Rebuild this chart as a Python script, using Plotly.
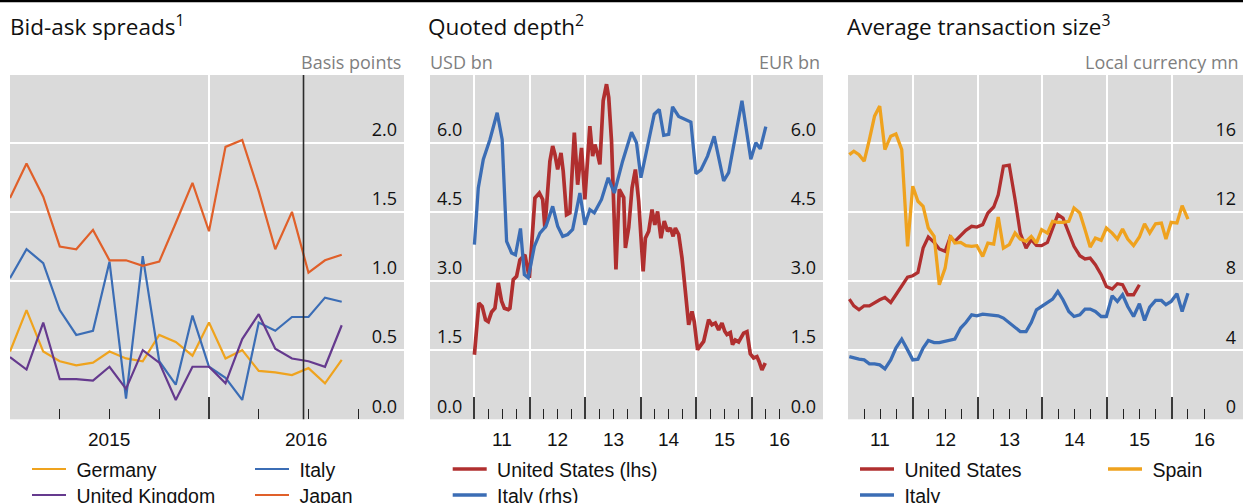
import plotly.graph_objects as go

W, H = 1243, 503

# ---------------- data ----------------
# Panel 1: bid-ask spreads, basis points (monthly)
spread_dates = [2015.000, 2015.083, 2015.167, 2015.250, 2015.333, 2015.417, 2015.500,
                2015.583, 2015.667, 2015.750, 2015.833, 2015.917, 2016.000, 2016.083,
                2016.167, 2016.250, 2016.333, 2016.417, 2016.500, 2016.583, 2016.667]
spread_germany = [0.49, 0.79, 0.49, 0.42, 0.39, 0.41, 0.49, 0.44, 0.42, 0.61, 0.56,
                  0.46, 0.70, 0.44, 0.50, 0.35, 0.34, 0.32, 0.37, 0.26, 0.43]
spread_italy = [1.02, 1.23, 1.13, 0.79, 0.61, 0.64, 1.14, 0.15, 1.18, 0.42, 0.25,
                0.75, 0.38, 0.30, 0.14, 0.70, 0.64, 0.74, 0.74, 0.88, 0.85]
spread_uk = [0.45, 0.36, 0.70, 0.29, 0.29, 0.28, 0.38, 0.22, 0.50, 0.41, 0.14,
             0.38, 0.38, 0.26, 0.58, 0.76, 0.51, 0.44, 0.42, 0.38, 0.68]
spread_japan = [1.60, 1.85, 1.61, 1.25, 1.23, 1.37, 1.15, 1.15, 1.11, 1.14, 1.42,
                1.71, 1.36, 1.97, 2.02, 1.65, 1.23, 1.50, 1.06, 1.15, 1.19]
brexit_vote = 2016.475
spread_year_labels = ["2015", "2016"]
spread_year_label_pos = [2015.5, 2016.49]
spread_major_ticks = [2015, 2016]
spread_minor_ticks = [2015.25, 2015.5, 2015.75, 2016.25, 2016.5, 2016.75]
spread_yticks = [0.0, 0.5, 1.0, 1.5, 2.0]

# Panel 2: quoted depth
depth_us_dates = [2011.00, 2011.08, 2011.14, 2011.20, 2011.25, 2011.31, 2011.37, 2011.43,
                  2011.49, 2011.54, 2011.61, 2011.64, 2011.70, 2011.76, 2011.82, 2011.91,
                  2011.99, 2012.09, 2012.17, 2012.23, 2012.27, 2012.36, 2012.41, 2012.45,
                  2012.50, 2012.56, 2012.60, 2012.66, 2012.72, 2012.80, 2012.86, 2012.93,
                  2012.99, 2013.08, 2013.13, 2013.17, 2013.22, 2013.26, 2013.32, 2013.38,
                  2013.42, 2013.47, 2013.55, 2013.61, 2013.69, 2013.72, 2013.78, 2013.84,
                  2013.90, 2013.96, 2014.04, 2014.08, 2014.14, 2014.20, 2014.25, 2014.30,
                  2014.36, 2014.42, 2014.48, 2014.53, 2014.58, 2014.62, 2014.68, 2014.74,
                  2014.80, 2014.86, 2014.92, 2014.96, 2015.02, 2015.07, 2015.13, 2015.22,
                  2015.28, 2015.34, 2015.40, 2015.46, 2015.51, 2015.55, 2015.61, 2015.65,
                  2015.70, 2015.76, 2015.80, 2015.85, 2015.91, 2015.97, 2016.03, 2016.09,
                  2016.13, 2016.18, 2016.24]
depth_us = [1.40, 2.52, 2.45, 2.16, 2.12, 2.33, 2.41, 2.96,
            2.56, 2.41, 2.38, 2.41, 3.03, 3.10, 3.46, 3.57,
            3.07, 4.80, 4.91, 4.77, 4.15, 5.60, 5.93, 5.75,
            5.42, 5.78, 5.38, 4.44, 4.48, 6.22, 5.09, 5.89,
            4.77, 6.36, 5.71, 5.96, 5.75, 5.53, 6.91, 7.27,
            6.98, 6.04, 3.25, 4.99, 4.81, 3.72, 4.16, 5.02,
            5.42, 4.73, 3.21, 3.93, 4.08, 4.55, 4.22, 4.51,
            3.93, 4.30, 4.08, 4.15, 3.97, 4.15, 4.01, 3.50,
            2.78, 2.05, 2.34, 2.12, 1.51, 1.58, 1.69, 2.16,
            2.05, 2.09, 1.94, 2.09, 1.91, 1.84, 1.88, 1.62,
            1.72, 1.68, 1.75, 1.87, 1.90, 1.42, 1.33, 1.36,
            1.25, 1.07, 1.22]
depth_it_dates = [2011.00, 2011.07, 2011.16, 2011.28, 2011.41, 2011.50, 2011.58, 2011.67,
                  2011.74, 2011.83, 2011.90, 2011.97, 2012.08, 2012.18, 2012.29, 2012.41,
                  2012.50, 2012.59, 2012.68, 2012.77, 2012.90, 2012.99, 2013.08, 2013.16,
                  2013.29, 2013.41, 2013.52, 2013.67, 2013.83, 2013.92, 2014.00, 2014.12,
                  2014.24, 2014.33, 2014.41, 2014.50, 2014.57, 2014.68, 2014.90, 2014.99,
                  2015.08, 2015.20, 2015.32, 2015.49, 2015.58, 2015.82, 2015.98, 2016.07,
                  2016.15, 2016.25]
depth_it = [3.79, 5.02, 5.64, 6.07, 6.65, 6.07, 3.86, 3.61,
            3.57, 4.14, 3.14, 3.07, 3.75, 4.04, 4.19, 4.62,
            4.19, 3.97, 4.01, 4.12, 4.91, 4.22, 4.55, 4.48,
            4.77, 5.24, 4.91, 5.60, 6.23, 6.00, 5.24, 5.93,
            6.62, 6.72, 6.16, 6.18, 6.78, 6.57, 6.45, 5.33,
            5.41, 5.71, 6.14, 5.17, 5.35, 6.91, 5.64, 6.00,
            5.87, 6.35]
depth_yticks = [0.0, 1.5, 3.0, 4.5, 6.0]

# Panel 3: average transaction size, local currency mn
size_dates = [2011.02, 2011.09, 2011.17, 2011.25, 2011.33, 2011.41, 2011.49, 2011.57,
              2011.66, 2011.74, 2011.83, 2011.92, 2012.00, 2012.08, 2012.16, 2012.24,
              2012.33, 2012.41, 2012.50, 2012.58, 2012.65, 2012.74, 2012.82, 2012.91,
              2012.99, 2013.08, 2013.16, 2013.25, 2013.32, 2013.40, 2013.49, 2013.58,
              2013.66, 2013.75, 2013.83, 2013.91, 2013.99, 2014.08, 2014.16, 2014.24,
              2014.32, 2014.41, 2014.49, 2014.58, 2014.66, 2014.74, 2014.82, 2014.91,
              2014.99, 2015.08, 2015.16, 2015.24, 2015.32, 2015.41, 2015.50, 2015.58,
              2015.66, 2015.75, 2015.84, 2015.91, 2015.99, 2016.08, 2016.16, 2016.25,
              2016.33]
size_us = [6.96, 6.57, 6.34, 6.57, 6.57, 6.76, 6.92, 7.05,
           6.76, 7.21, 7.69, 8.23, 8.31, 8.50, 9.91, 10.55,
           10.24, 9.86, 9.72, 10.55, 10.30, 10.63, 10.94, 11.17,
           11.13, 11.27, 11.94, 12.29, 13.00, 14.65, 14.71, 12.72,
           10.78, 9.91, 10.40, 10.07, 10.05, 10.24, 11.07, 11.85,
           11.65, 10.78, 10.01, 9.47, 9.28, 9.33, 8.95, 8.37,
           7.69, 7.54, 7.85, 7.79, 7.21, 7.21, 7.79, None,
           None, None, None, None, None, None, None, None,
           None]
size_spain = [15.32, 15.52, 15.32, 14.94, 16.19, 17.55, 18.13, 15.61,
              16.39, 16.52, 15.61, 10.01, 13.49, 12.62, 12.33, 11.07,
              10.59, 7.79, 8.75, 10.63, 10.20, 10.24, 10.05, 10.01,
              10.05, 9.43, 10.20, 10.14, 11.71, 9.91, 10.11, 10.78,
              10.43, 10.30, 10.59, 10.20, 10.98, 10.78, 11.46, 11.40,
              11.40, 11.46, 12.23, 11.94, 10.98, 9.97, 10.49, 10.36,
              11.07, 10.78, 10.43, 11.01, 10.43, 10.05, 10.55, 11.32,
              10.78, 11.32, 11.36, 10.43, 11.40, 11.36, 12.37, 11.59,
              None]
size_italy = [3.63, 3.54, 3.48, 3.44, 3.21, 3.21, 3.15, 2.92,
              3.44, 4.12, 4.64, 4.02, 3.44, 3.48, 4.12, 4.56,
              4.44, 4.44, 4.50, 4.56, 4.64, 5.28, 5.60, 6.05,
              5.99, 6.09, 6.05, 6.05, 5.99, 5.86, 5.57, 5.28,
              5.08, 5.08, 5.60, 6.34, 6.53, 6.72, 6.96, 7.40,
              6.92, 6.24, 5.95, 6.05, 6.38, 6.38, 6.24, 5.95,
              5.95, 7.15, 6.82, 7.21, 6.53, 5.95, 6.69, 5.72,
              6.49, 6.88, 6.88, 6.63, 6.82, 7.27, 6.24, 7.30,
              None]
size_yticks = [0, 4, 8, 12, 16]

multi_year_labels = ["11", "12", "13", "14", "15", "16"]
multi_year_label_pos = [2011.5, 2012.5, 2013.5, 2014.5, 2015.5, 2016.5]
multi_major_ticks = [2011, 2012, 2013, 2014, 2015, 2016]
multi_minor_ticks = [2011.25, 2011.5, 2011.75, 2012.25, 2012.5, 2012.75,
                     2013.25, 2013.5, 2013.75, 2014.25, 2014.5, 2014.75,
                     2015.25, 2015.5, 2015.75, 2016.25, 2016.5]

# ---------------- style ----------------
C_GER = "#EFA31E"
C_ITA = "#3B6DB5"
C_UK = "#653A8E"
C_JPN = "#E0602A"
C_US = "#B02F2F"
C_ESP = "#EFA21E"
BG = "#DADADA"
GRAY = "#7F7F7F"
F_TITLE = "Open Sans"
F_ARIAL = "Liberation Sans"
PAD = "\u00a0"  # small gap between legend key and its label


def px(x):
    return x / W


def py(y):
    return 1 - y / H


Y_DOM = [py(419.3), py(75)]

fig = go.Figure()


def line(x, y, name, color, width, xa, ya, leg):
    fig.add_trace(go.Scatter(x=x, y=y, name=PAD + name, mode="lines",
                             line=dict(color=color, width=width),
                             xaxis=xa, yaxis=ya, legend=leg,
                             connectgaps=False, hoverinfo="skip"))


line(spread_dates, spread_germany, "Germany", C_GER, 2.2, "x", "y", "legend")
line(spread_dates, spread_italy, "Italy", C_ITA, 2.2, "x", "y", "legend")
line(spread_dates, spread_uk, "United Kingdom", C_UK, 2.2, "x", "y", "legend2")
line(spread_dates, spread_japan, "Japan", C_JPN, 2.2, "x", "y", "legend2")

line(depth_it_dates, depth_it, "Italy (rhs)", C_ITA, 3.3, "x2", "y3", "legend4")
line(depth_us_dates, depth_us, "United States (lhs)", C_US, 3.7, "x2", "y2", "legend3")

line(size_dates, size_us, "United States", C_US, 3.3, "x3", "y4", "legend5")
line(size_dates, size_spain, "Spain", C_ESP, 3.3, "x3", "y4", "legend5")
line(size_dates, size_italy, "Italy", C_ITA, 3.3, "x3", "y4", "legend6")


def xaxis(domain, rng, major, minor):
    return dict(domain=domain, range=rng, showgrid=True, gridcolor="white", gridwidth=1.5,
                zeroline=False, showline=False, tickmode="array", tickvals=major,
                ticks="inside", ticklen=22, tickwidth=1.6, tickcolor="#3a3a3a",
                showticklabels=False, fixedrange=True,
                minor=dict(tickmode="array", tickvals=minor, ticks="inside", ticklen=10,
                           tickwidth=1.3, tickcolor="#222222", showgrid=False))


def yaxis(anchor, rng, ticks, fmt, side, grid=True, overlay=None):
    d = dict(domain=Y_DOM, range=rng, anchor=anchor, side=side, showgrid=grid,
             gridcolor="white", gridwidth=1.5, zeroline=False, showline=False,
             tickmode="array", tickvals=ticks, tickformat=fmt, ticks="",
             ticklabelposition="inside", ticklabelshift=-13, ticklabelstandoff=4,
             tickfont=dict(family=F_TITLE, size=18, color="#111111"), fixedrange=True)
    if overlay:
        d["overlaying"] = overlay
    return d


fig.update_layout(
    width=W, height=H, margin=dict(l=0, r=0, t=0, b=0, autoexpand=False),
    paper_bgcolor="white", plot_bgcolor=BG, showlegend=True,
    xaxis=xaxis([px(10), px(404)], [2015.0, 2016.98], spread_major_ticks, spread_minor_ticks),
    xaxis2=xaxis([px(430), px(823)], [2010.2, 2017.28], multi_major_ticks, multi_minor_ticks),
    xaxis3=xaxis([px(848), px(1243)], [2011.0, 2017.1], multi_major_ticks, multi_minor_ticks),
    yaxis=yaxis("x", [0, 2.49], spread_yticks, ".1f", "right"),
    yaxis2=yaxis("x2", [0, 7.47], depth_yticks, ".1f", "left"),
    yaxis3=yaxis("x2", [0, 7.47], depth_yticks, ".1f", "right", grid=False, overlay="y2"),
    yaxis4=yaxis("x3", [0, 19.93], size_yticks, "d", "right"),
)

# legends: one per row
LEG_H = 28.35


def legend(x_line, y_center, entrywidth=None):
    d = dict(orientation="h", x=px(x_line - 5), y=py(y_center - 5 - LEG_H / 2),
             xanchor="left", yanchor="top", bgcolor="rgba(0,0,0,0)", borderwidth=0,
             itemwidth=34, font=dict(family=F_ARIAL, size=19.5, color="#111111"),
             itemclick=False, itemdoubleclick=False)
    if entrywidth:
        d["entrywidth"] = entrywidth
        d["entrywidthmode"] = "pixels"
    return d


fig.update_layout(
    legend=legend(32, 469, 174),
    legend2=legend(32, 495, 174),
    legend3=legend(452.7, 469),
    legend4=legend(452.7, 495),
    legend5=legend(860, 469, 199),
    legend6=legend(860, 495),
)

ann = []


def text(x, y, s, size, color, family, xanchor, xref="paper"):
    ann.append(dict(x=x, y=y, xref=xref, yref="paper", text=s, showarrow=False,
                    xanchor=xanchor, yanchor="middle",
                    font=dict(size=size, color=color, family=family)))


text(px(8), py(26), "Bid-ask spreads<sup>1</sup>", 22.5, "#111111", F_TITLE, "left")
text(px(426), py(26), "Quoted depth<sup>2</sup>", 22.5, "#111111", F_TITLE, "left")
text(px(845), py(26), "Average transaction size<sup>3</sup>", 22.5, "#111111", F_TITLE, "left")
text(px(403), py(62), "Basis points", 18, GRAY, F_TITLE, "right")
text(px(428), py(62), "USD bn", 18, GRAY, F_TITLE, "left")
text(px(822), py(62), "EUR bn", 18, GRAY, F_TITLE, "right")
text(px(1241), py(62), "Local currency mn", 18, GRAY, F_TITLE, "right")

for lab, pos in zip(spread_year_labels, spread_year_label_pos):
    text(pos, py(439), lab, 19, "#111111", F_ARIAL, "center", xref="x")
for lab, pos in zip(multi_year_labels, multi_year_label_pos):
    text(pos, py(439), lab, 19, "#111111", F_ARIAL, "center", xref="x2")
    text(pos, py(439), lab, 19, "#111111", F_ARIAL, "center", xref="x3")

fig.update_layout(annotations=ann)

fig.add_shape(type="line", xref="x", yref="y domain", x0=brexit_vote, x1=brexit_vote,
              y0=0, y1=1, line=dict(color="#2b2b2b", width=1.6), layer="above")
fig.add_shape(type="rect", xref="paper", yref="paper", x0=0, x1=1, y0=py(2.2), y1=1,
              fillcolor="black", line=dict(width=0), layer="above")

fig.write_html("out.html", config={"displayModeBar": False},
               post_script="document.body.style.margin='0px';"
                           "document.body.style.overflow='hidden';")
